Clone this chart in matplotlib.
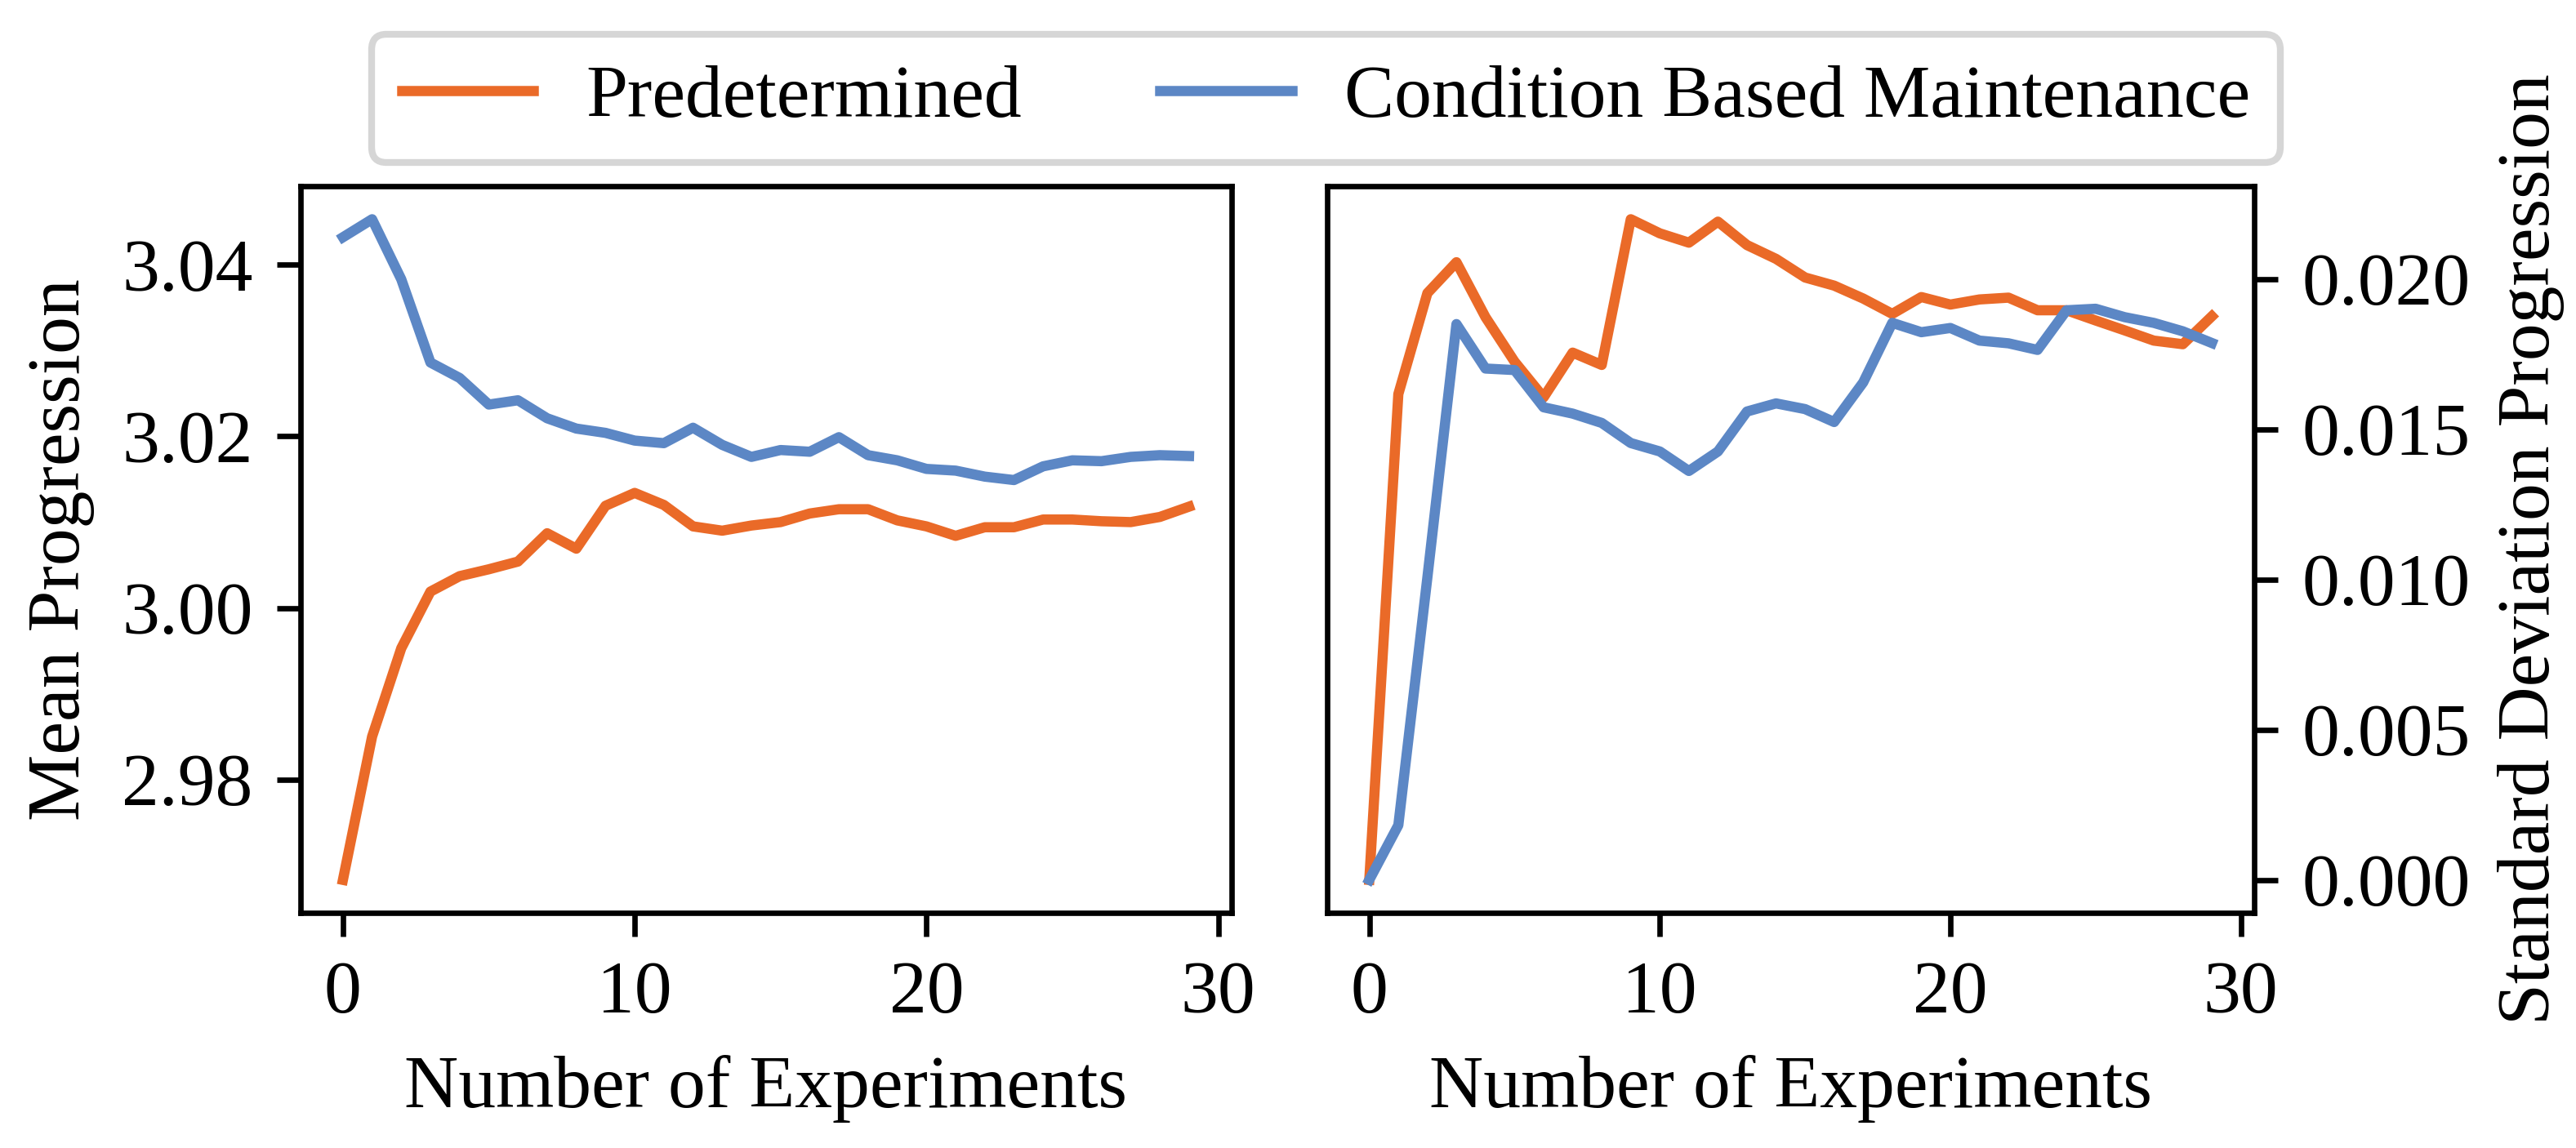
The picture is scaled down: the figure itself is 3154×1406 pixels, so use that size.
import numpy as np
import matplotlib
matplotlib.use("Agg")
import matplotlib.pyplot as plt

plt.rcParams['font.family'] = ['Liberation Serif', 'DejaVu Serif']
plt.rcParams['font.size'] = 11
plt.rcParams['mathtext.fontset'] = 'stix'

# number of experiments
experiments = np.arange(30)

# mean progression
mean_predetermined = [2.9683, 2.9850, 2.9953, 3.0019, 3.0037, 3.0045, 3.0054, 3.0087, 3.0069, 3.0119,
                      3.0134, 3.0120, 3.0095, 3.0090, 3.0096, 3.0100, 3.0110, 3.0115, 3.0115, 3.0102,
                      3.0095, 3.0084, 3.0094, 3.0094, 3.0103, 3.0103, 3.0101, 3.0100, 3.0106, 3.0118]
mean_cbm = [3.0432, 3.0453, 3.0383, 3.0286, 3.0268, 3.0237, 3.0242, 3.0221, 3.0209, 3.0204,
            3.0195, 3.0192, 3.0210, 3.0190, 3.0176, 3.0184, 3.0182, 3.0199, 3.0178, 3.0172,
            3.0162, 3.0160, 3.0153, 3.0149, 3.0165, 3.0172, 3.0171, 3.0176, 3.0178, 3.0177]

# standard deviation progression
std_predetermined = [0.0000, 0.01617, 0.01953, 0.02056, 0.01873, 0.01725, 0.01606, 0.01755, 0.01714, 0.02199,
                     0.02152, 0.02121, 0.02191, 0.02113, 0.02067, 0.02005, 0.01978, 0.01935, 0.01884, 0.01940,
                     0.01915, 0.01932, 0.01938, 0.01896, 0.01896, 0.01862, 0.01829, 0.01795, 0.01783, 0.01876]
std_cbm = [0.0000, 0.00182, 0.01007, 0.01850, 0.01702, 0.01697, 0.01573, 0.01552, 0.01521, 0.01454,
           0.01426, 0.01361, 0.01426, 0.01559, 0.01586, 0.01567, 0.01524, 0.01656, 0.01854, 0.01823,
           0.01837, 0.01795, 0.01786, 0.01764, 0.01896, 0.01901, 0.01873, 0.01854, 0.01826, 0.01787]

orange = '#EA6A28'
blue = '#5C87C5'

fig = plt.figure(figsize=(3154 / 600, 1406 / 600), dpi=600)
ax1 = fig.add_axes([0.1167, 0.2048, 0.3613, 0.633])
ax2 = fig.add_axes([0.5152, 0.2048, 0.3598, 0.633])

ax1.plot(experiments, mean_predetermined, color=orange, lw=1.5, label='Predetermined')
ax1.plot(experiments, mean_cbm, color=blue, lw=1.5, label='Condition Based Maintenance')
ax1.set_xlabel('Number of Experiments')
ax1.set_ylabel('Mean Progression')
ax1.set_xticks([0, 10, 20, 30])
ax1.set_yticks([2.98, 3.00, 3.02, 3.04])

ax2.plot(experiments, std_predetermined, color=orange, lw=1.5)
ax2.plot(experiments, std_cbm, color=blue, lw=1.5)
ax2.yaxis.tick_right()
ax2.yaxis.set_label_position('right')
ax2.set_xlabel('Number of Experiments')
ax2.set_ylabel('Standard Deviation Progression')
ax2.set_xticks([0, 10, 20, 30])
ax2.set_yticks([0.0, 0.005, 0.010, 0.015, 0.020])

handles, labels = ax1.get_legend_handles_labels()
leg = fig.legend(handles, labels, loc='upper center', bbox_to_anchor=(0.5147, 0.970), ncol=2,
                 borderaxespad=0.0, columnspacing=1.85, handletextpad=0.7, handlelength=1.76)
leg.get_frame().set_linewidth(1.0)

fig.savefig('out.png', dpi=600)
